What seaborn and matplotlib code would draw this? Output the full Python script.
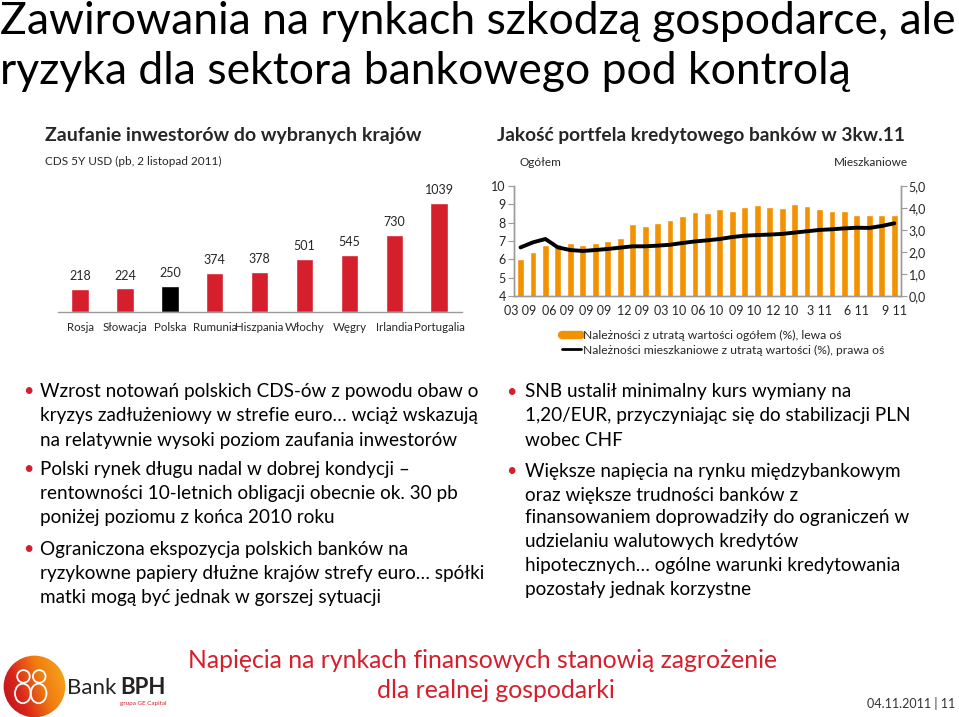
import matplotlib
matplotlib.use("Agg")
import matplotlib.pyplot as plt
import seaborn as sns
import numpy as np
import pandas as pd
from matplotlib.lines import Line2D
from matplotlib.patches import Circle, Ellipse

# ---------------- data ----------------
countries = ["Rosja", "Słowacja", "Polska", "Rumunia", "Hiszpania", "Włochy", "Węgry", "Irlandia", "Portugalia"]
cds_values = [218, 224, 250, 374, 378, 501, 545, 730, 1039]
highlight_country = "Polska"

months = ["03 09", "04 09", "05 09", "06 09", "07 09", "08 09", "09 09", "10 09", "11 09", "12 09",
          "01 10", "02 10", "03 10", "04 10", "05 10", "06 10", "07 10", "08 10", "09 10", "10 10",
          "11 10", "12 10", "1 11", "2 11", "3 11", "4 11", "5 11", "6 11", "7 11", "8 11", "9 11"]
impaired_total = [6.0, 6.4, 6.8, 6.85, 6.9, 6.8, 6.9, 7.0, 7.15, 7.9,
                  7.8, 8.0, 8.15, 8.35, 8.57, 8.5, 8.72, 8.63, 8.83, 8.94,
                  8.83, 8.8, 9.0, 8.92, 8.72, 8.61, 8.61, 8.43, 8.43, 8.43, 8.43]
impaired_mortgage = [2.21, 2.44, 2.59, 2.21, 2.09, 2.05, 2.09, 2.14, 2.2, 2.26,
                     2.26, 2.29, 2.33, 2.41, 2.48, 2.53, 2.59, 2.68, 2.74, 2.77,
                     2.79, 2.82, 2.88, 2.94, 3.0, 3.03, 3.07, 3.1, 3.09, 3.18, 3.3]
month_ticks = ["03 09", "06 09", "09 09", "12 09", "03 10", "06 10", "09 10", "12 10", "3 11", "6 11", "9 11"]
left_ticks = [4, 5, 6, 7, 8, 9, 10]
right_ticks = ["0,0", "1,0", "2,0", "3,0", "4,0", "5,0"]

title_lines = ["Zawirowania na rynkach szkodzą gospodarce, ale",
               "ryzyka dla sektora bankowego pod kontrolą"]
left_bullets = [
    ["Wzrost notowań polskich CDS-ów z powodu obaw o",
     "kryzys zadłużeniowy w strefie euro… wciąż wskazują",
     "na relatywnie wysoki poziom zaufania inwestorów"],
    ["Polski rynek długu nadal w dobrej kondycji –",
     "rentowności 10-letnich obligacji obecnie ok. 30 pb",
     "poniżej poziomu z końca 2010 roku"],
    ["Ograniczona ekspozycja polskich banków na",
     "ryzykowne papiery dłużne krajów strefy euro… spółki",
     "matki mogą być jednak w gorszej sytuacji"],
]
right_bullets = [
    ["SNB ustalił minimalny kurs wymiany na",
     "1,20/EUR, przyczyniając się do stabilizacji PLN",
     "wobec CHF"],
    ["Większe napięcia na rynku międzybankowym",
     "oraz większe trudności banków z",
     "finansowaniem doprowadziły do ograniczeń w",
     "udzielaniu walutowych kredytów",
     "hipotecznych… ogólne warunki kredytowania",
     "pozostały jednak korzystne"],
]

# ---------------- style ----------------
sns.set_theme(style="white")
FONT = ["Lato", "DejaVu Sans"]
plt.rcParams["font.family"] = FONT
RED = "#D61F2C"
ORANGE = "#F39200"
GREY = "#9A9A9A"

W, H = 959, 717
fig = plt.figure(figsize=(W / 100, H / 100), dpi=100)
fig.patch.set_facecolor("white")


def fx(x):
    return x / W


def fy(y):
    return 1 - y / H


def ax_rect(x0, y0, x1, y1):
    return [fx(x0), fy(y1), (x1 - x0) / W, (y1 - y0) / H]


# ---------------- titles ----------------
fig.text(fx(0), fy(21), title_lines[0], fontsize=32, va="center", ha="left", color="black")
fig.text(fx(0), fy(72), title_lines[1], fontsize=32, va="center", ha="left", color="black")

fig.text(fx(45), fy(136), "Zaufanie inwestorów do wybranych krajów", fontsize=14,
         fontweight="bold", va="center", ha="left")
fig.text(fx(45), fy(161), "CDS 5Y USD (pb, 2 listopad 2011)", fontsize=8.5, va="center", ha="left")
fig.text(fx(497), fy(136), "Jakość portfela kredytowego banków w 3kw.11", fontsize=13.8,
         fontweight="bold", va="center", ha="left")
fig.text(fx(519), fy(162), "Ogółem", fontsize=8.5, va="center", ha="left")
fig.text(fx(908), fy(162), "Mieszkaniowe", fontsize=8.5, va="center", ha="right")

# ---------------- left bar chart ----------------
ax1 = fig.add_axes(ax_rect(57.6, 186, 461.6, 312))
df1 = pd.DataFrame({"country": countries, "cds": cds_values})
palette = {c: ("black" if c == highlight_country else RED) for c in countries}
sns.barplot(data=df1, x="country", y="cds", hue="country", palette=palette, legend=False,
            width=0.39, saturation=1, ax=ax1)
for cont in ax1.containers:
    ax1.bar_label(cont, fmt="%d", padding=5, fontsize=9)
ax1.set_xlim(-0.5, len(countries) - 0.5)
ax1.set_ylim(0, 1200)
ax1.set_xlabel("")
ax1.set_ylabel("")
ax1.set_yticks([])
ax1.tick_params(axis="x", length=0, pad=7, labelsize=8.3)
for s in ["top", "left", "right"]:
    ax1.spines[s].set_visible(False)
ax1.spines["bottom"].set_color(GREY)
ax1.spines["bottom"].set_linewidth(1)
ax1.set_facecolor("none")

# ---------------- right combo chart ----------------
ax2 = fig.add_axes(ax_rect(514.3, 185.7, 900.5, 296.3))
df2 = pd.DataFrame({"month": months, "total": impaired_total, "mortgage": impaired_mortgage})
sns.barplot(data=df2, x="month", y="total", color=ORANGE, saturation=1, width=0.55, ax=ax2)
ax2.set_ylim(4, 10)
ax2.set_xlim(-0.5, len(months) - 0.5)
ax2.set_yticks(left_ticks)
ax2.set_yticklabels([str(t) for t in left_ticks])
ax2.set_xticks([months.index(m) for m in month_ticks])
ax2.set_xticklabels(month_ticks)
ax2.set_xlabel("")
ax2.set_ylabel("")
ax2.tick_params(axis="x", length=0, pad=6, labelsize=9)
ax2.tick_params(axis="y", length=4, width=0.8, color=GREY, direction="out", pad=2, labelsize=9, left=True)
ax2.set_facecolor("none")

ax3 = ax2.twinx()
df2["pos"] = np.arange(len(months))
sns.lineplot(data=df2, x="pos", y="mortgage", color="black", linewidth=2.8, ax=ax3)
ax3.set_ylim(0, 5)
ax3.set_yticks(np.arange(0, 6))
ax3.set_yticklabels(right_ticks)
ax3.set_ylabel("")
ax3.set_xlabel("")
ax3.tick_params(axis="y", length=4, width=0.8, color=GREY, direction="out", pad=2, labelsize=9, right=True)
for a in (ax2, ax3):
    a.spines["top"].set_visible(False)
    for s in ["left", "right", "bottom"]:
        a.spines[s].set_color(GREY)
        a.spines[s].set_linewidth(1)

handles = [Line2D([0], [0], color=ORANGE, lw=6),
           Line2D([0], [0], color="black", lw=2)]
labels = ["Należności z utratą wartości ogółem (%), lewa oś",
          "Należności mieszkaniowe z utratą wartości (%), prawa oś"]
fig.legend(handles, labels, loc="upper left", bbox_to_anchor=(fx(562), fy(330)),
           frameon=False, fontsize=8.7, handlelength=1.6, handletextpad=0.1,
           labelspacing=0.3, borderaxespad=0, borderpad=0)

# ---------------- bullets ----------------
def draw_bullets(blocks, x_dot, x_text, ys):
    k = 0
    for block in blocks:
        for i, line in enumerate(block):
            y = ys[k]
            if i == 0:
                fig.text(fx(x_dot), fy(y), "•", color=RED, fontsize=13, va="center", ha="center")
            fig.text(fx(x_text), fy(y), line, fontsize=13.6, va="center", ha="left", color="black")
            k += 1


draw_bullets(left_bullets, 28, 40, [391, 415, 440, 469, 493, 518, 549, 574, 598])
draw_bullets(right_bullets, 511, 525, [392, 416, 440, 471, 495, 518, 542, 566, 589])

# ---------------- footer ----------------
fig.text(fx(483), fy(660), "Napięcia na rynkach finansowych stanowią zagrożenie", fontsize=17.8,
         color=RED, ha="center", va="center")
fig.text(fx(496), fy(690), "dla realnej gospodarki", fontsize=17.8, color=RED, ha="center", va="center")
fig.text(fx(955), fy(703), "04.11.2011 | 11", fontsize=9, color="#333333", ha="right", va="center")

# logo
lax = fig.add_axes(ax_rect(3, 655, 66, 718))
lax.set_xlim(-1, 1)
lax.set_ylim(-1, 1)
lax.set_aspect("equal")
lax.axis("off")
grad = np.linspace(0, 1, 256)[None, :] * np.ones((256, 1))
yy = np.linspace(0, 1, 256)[:, None]
img = np.clip(grad * 0.8 + yy * 0.3, 0, 1)
cmap = matplotlib.colors.LinearSegmentedColormap.from_list("bph", ["#B5121B", "#D9261C", "#F07A10", "#F7A21B"])
im = lax.imshow(img, extent=[-1, 1, -1, 1], cmap=cmap, origin="lower")
circ = Circle((0, 0), 0.98, transform=lax.transData)
lax.add_patch(circ)
circ.set_visible(False)
im.set_clip_path(circ)
for cx in (-0.35, 0.15):
    lax.add_patch(Circle((cx, 0.32), 0.2, fill=False, ec="white", lw=1.3))
    lax.add_patch(Ellipse((cx - 0.02, -0.22), 0.5, 0.62, fill=False, ec="white", lw=1.3))
fig.text(fx(67), fy(688), "Bank", fontsize=16, color="#222222", ha="left", va="center")
fig.text(fx(166), fy(688), "BPH", fontsize=16, fontweight="bold", color="#222222", ha="right", va="center")
fig.text(fx(166), fy(704), "grupa GE Capital", fontsize=4.5, color=RED, ha="right", va="center")

fig.savefig("out.png", dpi=100, facecolor="white")
